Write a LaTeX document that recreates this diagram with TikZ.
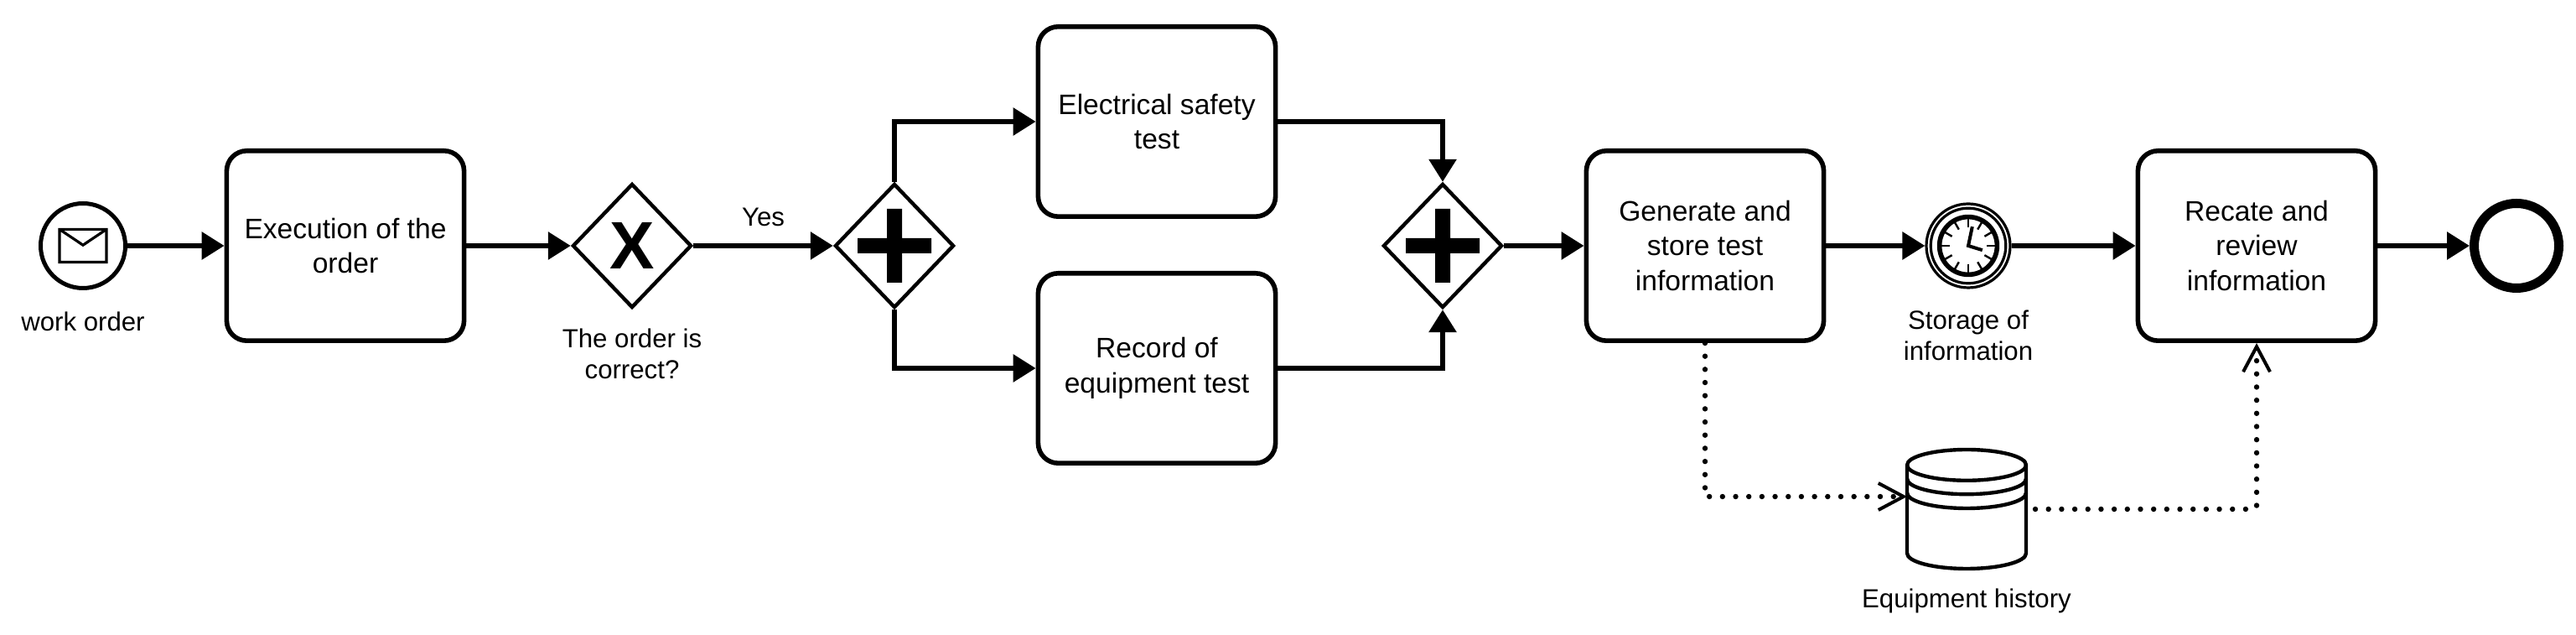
\documentclass[tikz,border=0pt]{standalone}
\usepackage{fontspec}
\setmainfont{Liberation Sans}
\usetikzlibrary{arrows.meta,shapes.geometric}

\begin{document}
\begin{tikzpicture}[->,>={Triangle[length=6.75pt,width=8pt]},line width=1.5pt,node distance=78.25pt]
\tikzstyle{task}=[draw=black,rectangle,rounded corners=6pt,line width=1.4pt,minimum width=70.8pt,minimum height=56.6pt,inner sep=0pt,align=center,font=\fontsize{8.4pt}{10.4pt}\selectfont]
\tikzstyle{gateway}=[draw=black,diamond,aspect=1,line width=1.1pt,minimum width=35.5pt,minimum height=37pt,inner sep=0pt,font=\fontsize{20pt}{20pt}\selectfont\bfseries]
\tikzstyle{event}=[draw=black,circle,line width=1.25pt,minimum size=25.25pt,inner sep=0pt]
\tikzstyle{label}=[inner sep=0pt,align=center,font=\fontsize{7.8pt}{9.25pt}\selectfont]
\tikzstyle{icon}=[-,line width=0.8pt]
\tikzstyle{vh}=[to path={|- (\tikztotarget)}]
\tikzstyle{hv}=[to path={-| (\tikztotarget)}]
\tikzstyle{assoc}=[-{Straight Barb[length=7.5pt,width=8pt,line width=1pt]},line width=1.6pt,line cap=round,dash pattern=on 0pt off 3.92pt]

\useasboundingbox (-24.75pt,-116pt) rectangle ++(768.25pt,189.25pt);

\node[event]    (E1)                                        {};
\node[task]     (T1) [right of=E1]                          {Execution of the\\order};
\node[gateway]  (G1) [right of=T1,node distance=85.5pt]     {X};
\node[gateway]  (G2) [right of=G1]                          {};
\node[task]     (T2) [right of=G2,yshift=37pt]              {Electrical safety\\test};
\node[task]     (T3) [below of=T2,node distance=73.5pt]     {Record of\\equipment test};
\node[gateway]  (G3) [right of=G2,node distance=163.5pt]    {};
\node[task]     (T4) [right of=G3]                          {Generate and\\store test\\information};
\node[event,minimum size=25pt,line width=0.8pt] (E2) [right of=T4,node distance=78.5pt] {};
\node[task]     (T5) [right of=E2,node distance=86pt]       {Recate and\\review\\information};
\node[event,minimum size=25.25pt,line width=2.75pt] (E3) [right of=T5,node distance=77.5pt] {};
\node[minimum width=35.5pt,minimum height=35.5pt,inner sep=0pt,outer sep=0pt] (D1) [below of=E2,xshift=-0.5pt,node distance=78.5pt] {};
\node[label]    (L1) [below of=E1,node distance=22.5pt]     {work order};
\node[label]    (L2) [below of=G1,node distance=32.1pt]     {The order is\\correct?};
\node[label]    (L3) [below of=E2,node distance=26.8pt]     {Storage of\\information};
\node[label]    (L4) [below of=D1,node distance=27.25pt]    {Equipment history};

\path (E1) edge              node {} (T1)
(T1) edge              node {} (G1)
(G1) edge              node[label,above=5pt] {Yes} (G2)
(G2.north) edge[vh]    node {} (T2.west)
(G2.south) edge[vh]    node {} (T3.west)
(T2.east) edge[hv]     node {} (G3.north)
(T3.east) edge[hv]     node {} (G3.south)
(G3) edge              node {} (T4)
(T4) edge              node {} (E2)
(E2) edge              node {} (T5)
(T5) edge              node {} (E3);

\draw[assoc] (T4.south) |- ([yshift=3.75pt]D1.west);
\draw[assoc,shorten <=2.75pt,rounded corners=1pt] (D1.east) -| (T5.south);

\fill (G2.center) +(-11pt,-2.25pt) rectangle +(11pt,2.25pt) +(-2.25pt,-11pt) rectangle +(2.25pt,11pt);
\fill (G3.center) +(-11pt,-2.25pt) rectangle +(11pt,2.25pt) +(-2.25pt,-11pt) rectangle +(2.25pt,11pt);

\draw[icon] (E1.center) +(-7pt,-4.9pt) rectangle +(7pt,4.9pt) +(-7pt,4.9pt) -- +(0pt,0.2pt) -- +(7pt,4.9pt);

\draw[icon] (E2.center) circle (11.2pt);
\draw[icon,line width=1.4pt] (E2.center) circle (8.6pt);
\foreach \a in {0,30,...,330}
\draw[icon,line width=0.6pt] (E2.center) ++(\a:8.2pt) -- ++(\a+180:2.6pt);
\draw[icon,line width=1pt] (E2.center) ++(1.2pt,5.7pt) -- ++(-1.2pt,-5.7pt) -- ++(4.2pt,-1.3pt);

\draw[icon,line width=1.1pt] (D1.north west) ++(0pt,-4.6pt) arc (180:0:17.75pt and 4.6pt) -- ++(0pt,-26.3pt) arc (0:-180:17.75pt and 4.6pt) -- cycle;
\draw[icon,line width=1.1pt] (D1.north west) ++(0pt,-4.6pt) arc (180:360:17.75pt and 4.6pt);
\draw[icon,line width=1.1pt] (D1.north west) ++(0pt,-8.7pt) arc (180:360:17.75pt and 4.6pt);
\draw[icon,line width=1.1pt] (D1.north west) ++(0pt,-12.9pt) arc (180:360:17.75pt and 4.6pt);
\end{tikzpicture}
\end{document}
